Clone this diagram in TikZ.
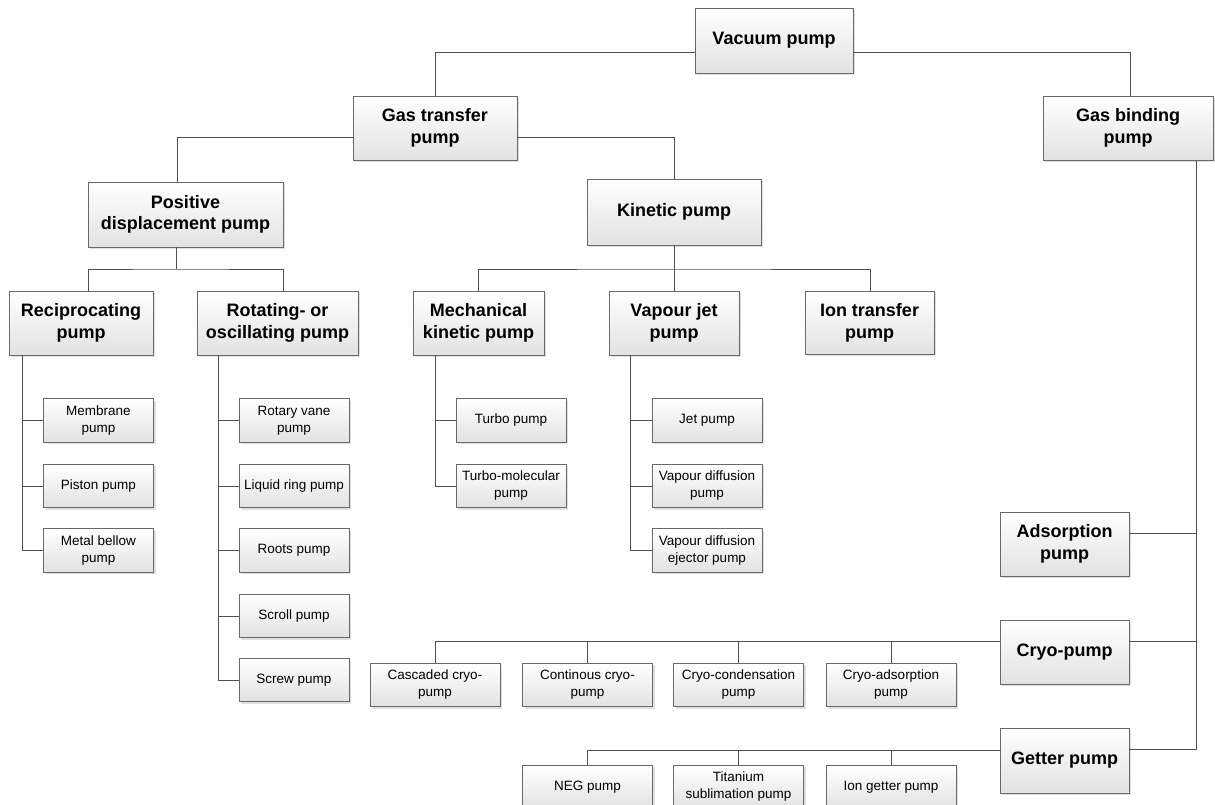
\documentclass[tikz,border=0pt]{standalone}
\usepackage{fontspec}
\setmainfont{Liberation Sans}
\usetikzlibrary{shadows}

\tikzset{
  pumpbox/.style={draw=boxColor, line width=0.8pt, top color=topColor, bottom color=botColor,
    drop shadow={shadow xshift=2pt, shadow yshift=-2pt, opacity=0.25, fill=gray},
    align=center, inner sep=1pt, text=black},
  bigbox/.style={pumpbox, font=\fontsize{18}{21.5}\selectfont\bfseries, minimum height=64pt},
  smallbox/.style={pumpbox, font=\fontsize{13.5}{17}\selectfont, minimum width=110pt, minimum height=43.5pt},
  link/.style={draw=lineColor, line width=0.8pt}
}

\begin{document}
\begin{tikzpicture}[x=1pt,y=1pt]
\definecolor{lineColor}{RGB}{80,80,80}
\definecolor{boxColor}{RGB}{105,105,105}
\definecolor{topColor}{RGB}{255,255,255}
\definecolor{botColor}{RGB}{226,226,226}
\path[use as bounding box,fill=white] (0,0) rectangle (1215,805);

% main levels
\node[bigbox, minimum width=158pt, minimum height=65pt] (vac) at (774,764.5) {Vacuum pump};
\node[bigbox, minimum width=164pt] (gt) at (435,677) {Gas transfer\\pump};
\node[bigbox, minimum width=170pt] (gb) at (1128,677) {Gas binding\\pump};
\node[bigbox, minimum width=195pt, minimum height=65pt] (pd) at (185.5,590.5) {Positive\\displacement pump};
\node[bigbox, minimum width=174pt, minimum height=66pt] (kin) at (674,593) {Kinetic pump};

\node[bigbox, minimum width=144pt] (rec) at (81,482) {Reciprocating\\pump};
\node[bigbox, minimum width=161pt] (rot) at (277.5,482) {Rotating- or\\oscillating pump};
\node[bigbox, minimum width=131pt] (mech) at (478.5,482) {Mechanical\\kinetic pump};
\node[bigbox, minimum width=130pt] (vj) at (674,482) {Vapour jet\\pump};
\node[bigbox, minimum width=129pt, minimum height=63pt] (ion) at (869.5,482) {Ion transfer\\pump};

\node[bigbox, minimum width=129pt] (ads) at (1064.5,261) {Adsorption\\pump};
\node[bigbox, minimum width=129pt] (cryo) at (1064.5,153) {Cryo-pump};
\node[bigbox, minimum width=129pt, minimum height=65pt] (get) at (1064.5,44.5) {Getter pump};

% leaves
\node[smallbox] (mem) at (98.5,384.5) {Membrane\\pump};
\node[smallbox] (pis) at (98.5,319) {Piston pump};
\node[smallbox] (bel) at (98.5,254.5) {Metal bellow\\pump};

\node[smallbox] (rv) at (294,384.5) {Rotary vane\\pump};
\node[smallbox] (lr) at (294,319) {Liquid ring pump};
\node[smallbox] (roots) at (294,254.5) {Roots pump};
\node[smallbox] (scroll) at (294,189) {Scroll pump};
\node[smallbox] (screw) at (294,125) {Screw pump};

\node[smallbox] (turbo) at (511,384.5) {Turbo pump};
\node[smallbox] (tm) at (511,319) {Turbo-molecular\\pump};

\node[smallbox] (jet) at (707,384.5) {Jet pump};
\node[smallbox] (vd) at (707,319) {Vapour diffusion\\pump};
\node[smallbox] (vde) at (707,254.5) {Vapour diffusion\\ejector pump};

\node[smallbox, minimum width=130pt] (cas) at (435,120) {Cascaded cryo-\\pump};
\node[smallbox, minimum width=130pt] (cont) at (587.5,120) {Continous cryo-\\pump};
\node[smallbox, minimum width=130pt] (ccond) at (738.5,120) {Cryo-condensation\\pump};
\node[smallbox, minimum width=130pt] (cads) at (891,120) {Cryo-adsorption\\pump};

\node[smallbox, minimum width=130pt] (neg) at (587.5,18) {NEG pump};
\node[smallbox, minimum width=130pt] (ti) at (738.5,18) {Titanium\\sublimation pump};
\node[smallbox, minimum width=130pt] (ig) at (891,18) {Ion getter pump};

% connectors
\coordinate (pdbus) at (176,536);
\coordinate (kinbus) at (674,536);

\draw[link] ([yshift=-11.5pt]vac.west) -| (gt.north);
\draw[link] ([yshift=-11.5pt]vac.east) -| ([xshift=2pt]gb.north);
\draw[link] ([yshift=-9pt]gt.west) -| ([xshift=-8.5pt]pd.north);
\draw[link] ([yshift=-9pt]gt.east) -| (kin.north);

\draw[link] ([xshift=-9.5pt]pd.south) -- (pdbus);
\draw[link] ([xshift=7pt]rec.north) |- (pdbus) -| ([xshift=5.5pt]rot.north);
\draw[link] (kin.south) -- (kinbus);
\draw[link] (mech.north) |- (kinbus) -| ([xshift=0.5pt]ion.north);
\draw[link] (vj.north) -- (kinbus);

\foreach \c in {mem,pis,bel} \draw[link] ([xshift=14pt]rec.south west) |- (\c.west);
\foreach \c in {rv,lr,roots,scroll,screw} \draw[link] ([xshift=22pt]rot.south west) |- (\c.west);
\foreach \c in {turbo,tm} \draw[link] ([xshift=23pt]mech.south west) |- (\c.west);
\foreach \c in {jet,vd,vde} \draw[link] ([xshift=22pt]vj.south west) |- (\c.west);

\foreach \c in {ads,cryo,get} \draw[link] ([xshift=-17pt]gb.south east) |- ([yshift=11pt]\c.east);
\foreach \c in {cas,cont,ccond,cads} \draw[link] ([yshift=11pt]cryo.west) -| (\c.north);
\foreach \c in {neg,ti,ig} \draw[link] ([yshift=10.5pt]get.west) -| (\c.north);
\end{tikzpicture}
\end{document}
